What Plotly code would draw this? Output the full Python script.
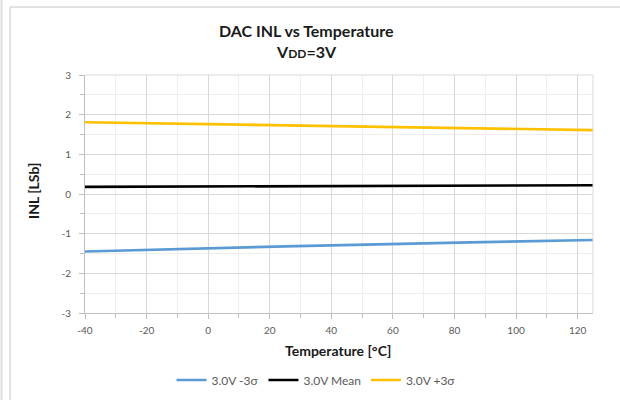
import plotly.graph_objects as go

# Temperature sweep points (°C)
temps = [-40, 0, 25, 85, 125]

# INL in LSb at VDD = 3.0 V
inl_minus3s = [-1.45, -1.37, -1.32, -1.22, -1.16]
inl_mean = [0.18, 0.19, 0.20, 0.21, 0.22]
inl_plus3s = [1.81, 1.76, 1.72, 1.65, 1.61]

series_names = ["3.0V -3σ", "3.0V Mean", "3.0V +3σ"]
series_colors = ["#5B9BD5", "#000000", "#FFC000"]

x_ticks = [-40, -20, 0, 20, 40, 60, 80, 100, 120]
y_ticks = [-3, -2, -1, 0, 1, 2, 3]

FONT = "Lato"
GREY = "#595959"

# plot area in pixels
W, H = 620, 400
L, R, T, B = 85, 593, 75, 313


def px(x):
    return (x - L) / (R - L)


def py(y):
    return (B - y) / (B - T)


fig = go.Figure()
for vals, name, color in zip([inl_minus3s, inl_mean, inl_plus3s], series_names, series_colors):
    fig.add_trace(go.Scatter(
        x=temps, y=vals, name=name, mode="lines",
        line=dict(color=color, width=2.6),
    ))

axis_common = dict(
    showline=True, linecolor="#bfbfbf", linewidth=1,
    showgrid=True, gridcolor="#d9d9d9", gridwidth=1,
    ticks="outside", ticklen=5, tickcolor="#bfbfbf",
    tickfont=dict(family=FONT, size=10, color=GREY),
    zeroline=False, automargin=False,
)

fig.update_xaxes(
    range=[-40, 125], tickvals=x_ticks, ticktext=[str(v) for v in x_ticks],
    ticklabelstandoff=3,
    minor=dict(dtick=10, tick0=0, showgrid=True, gridcolor="#eeeeee",
               ticks="outside", ticklen=4, tickcolor="#bfbfbf"),
    **axis_common,
)
fig.update_yaxes(
    range=[-3, 3], tickvals=y_ticks, ticktext=[str(v) for v in y_ticks],
    ticklabelstandoff=6,
    minor=dict(dtick=0.5, tick0=0, showgrid=True, gridcolor="#eeeeee",
               ticks="outside", ticklen=4, tickcolor="#bfbfbf"),
    **axis_common,
)

shapes = [
    # top / right edges of the plot area
    dict(type="line", xref="paper", yref="paper", x0=0, x1=1, y0=1, y1=1,
         line=dict(color="#d9d9d9", width=1)),
    dict(type="line", xref="paper", yref="paper", x0=1, x1=1, y0=0, y1=1,
         line=dict(color="#d9d9d9", width=1)),
    # outer chart frame
    dict(type="line", xref="paper", yref="paper", x0=px(10), x1=px(630), y0=py(7), y1=py(7),
         line=dict(color="#d9d9d9", width=1.5)),
    dict(type="line", xref="paper", yref="paper", x0=px(10), x1=px(10), y0=py(7), y1=py(410),
         line=dict(color="#d9d9d9", width=1.5)),
    dict(type="line", xref="paper", yref="paper", x0=px(1.5), x1=px(1.5), y0=py(-10), y1=py(410),
         line=dict(color="#dcdcdc", width=2)),
]

TEXT = "#1a1a1a"
annotations = [
    dict(text="<b>DAC INL vs Temperature</b>", x=px(306), y=py(30)),
    dict(text="<b>V<span style='font-size:12px'>DD</span>=3V</b>", x=px(306), y=py(52)),
    dict(text="<b>INL [LSb]</b>", x=px(33), y=py(191), textangle=-90,
         font=dict(family=FONT, size=14, color=TEXT)),
    dict(text="<b>Temperature [°C]</b>", x=px(338), y=py(350),
         font=dict(family=FONT, size=14, color=TEXT)),
]
for a in annotations:
    a.update(xref="paper", yref="paper", showarrow=False, xanchor="center", yanchor="middle")
    a.setdefault("font", dict(family=FONT, size=16, color=TEXT))

fig.update_layout(
    width=W, height=H,
    margin=dict(l=L, r=W - R, t=T, b=H - B, autoexpand=False),
    paper_bgcolor="white", plot_bgcolor="white",
    shapes=shapes, annotations=annotations,
    showlegend=True,
    legend=dict(orientation="h", x=px(316), xanchor="center", y=py(380), yanchor="middle",
                font=dict(family=FONT, size=12, color=GREY),
                itemwidth=30, traceorder="normal"),
)

fig.write_html("out.html")
